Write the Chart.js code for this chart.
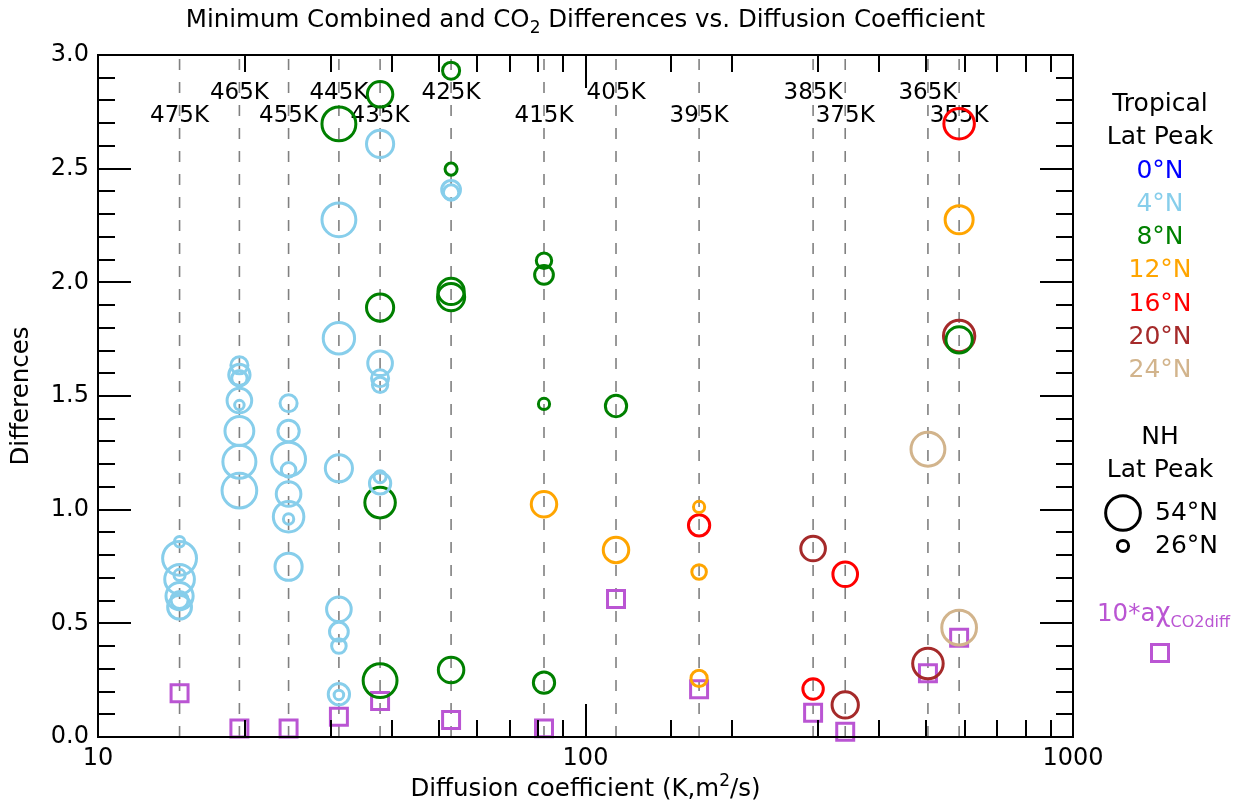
<!DOCTYPE html>
<html>
<head>
<meta charset="utf-8">
<script src="https://cdn.jsdelivr.net/npm/chart.js@4.4.0/dist/chart.umd.min.js"></script>
<style>
  html, body { margin: 0; padding: 0; background: #ffffff; }
  #wrap { width: 1233px; height: 803px; }
</style>
</head>
<body>
<div id="wrap"><canvas id="chart" width="1233" height="803"></canvas></div>
<script>
// Potential-temperature levels and their diffusion coefficients (K m^2/s)
const levelLabels = ['475K', '465K', '455K', '445K', '435K', '425K', '415K', '405K', '395K', '385K', '375K', '365K', '355K'];
const levelDiffusion = [14.7, 19.5, 24.6, 31.2, 37.9, 53.0, 82.2, 115.5, 171.0, 293, 341, 504, 584];

// Tropical latitude peak 4°N
const trop4Levels = [
  '475K', '475K', '475K', '475K', '475K', '475K', '475K',
  '465K', '465K', '465K', '465K', '465K', '465K', '465K', '465K',
  '455K', '455K', '455K', '455K', '455K', '455K', '455K', '455K',
  '445K', '445K', '445K', '445K', '445K', '445K', '445K', '445K',
  '435K', '435K', '435K', '435K', '435K', '435K',
  '425K', '425K'
];
const trop4Diff = [
  0.859, 0.786, 0.694, 0.713, 0.620, 0.603, 0.571,
  1.635, 1.593, 1.578, 1.480, 1.460, 1.346, 1.211, 1.084,
  1.468, 1.346, 1.222, 1.175, 1.069, 0.969, 0.959, 0.749,
  2.275, 1.754, 1.182, 0.562, 0.463, 0.400, 0.188, 0.185,
  2.609, 1.644, 1.578, 1.549, 1.145, 1.116,
  2.407, 2.395
];
const trop4NH = [
  25, 53, 48, 26, 45, 33, 41,
  33, 38, 31, 42, 24, 47, 52, 54,
  33, 38, 53, 30, 42, 49, 25, 45,
  53, 50, 45, 42, 35, 30, 38, 24,
  45, 42, 33, 31, 27, 38,
  35, 31
];

// Tropical latitude peak 8°N
const trop8Levels = ['445K', '435K', '435K', '435K', '435K', '425K', '425K', '425K', '425K', '425K', '415K', '415K', '415K', '415K', '405K', '355K'];
const trop8Diff = [2.697, 2.827, 1.889, 1.031, 0.248, 2.931, 2.498, 1.960, 1.935, 0.295, 2.095, 2.033, 1.465, 0.239, 1.456, 1.747];
const trop8NH = [53, 43, 45, 49, 53, 33, 27, 44, 45, 43, 31, 35, 26, 38, 38, 44];

// Tropical latitude peak 12°N
const trop12Levels = ['415K', '405K', '395K', '395K', '395K', '355K'];
const trop12Diff = [1.024, 0.823, 1.012, 0.726, 0.258, 2.275];
const trop12NH = [43, 43, 26, 30, 32, 46];

// Tropical latitude peak 16°N
const trop16Levels = ['395K', '385K', '375K', '355K'];
const trop16Diff = [0.931, 0.211, 0.716, 2.698];
const trop16NH = [38, 37, 42, 49];

// Tropical latitude peak 20°N
const trop20Levels = ['385K', '375K', '365K', '355K'];
const trop20Diff = [0.829, 0.141, 0.323, 1.764];
const trop20NH = [42, 44, 49, 50];

// Tropical latitude peak 24°N
const trop24Levels = ['365K', '355K'];
const trop24Diff = [1.266, 0.481];
const trop24NH = [53, 54];

// 10 * a·chi_CO2diff, one value per level
const co2Diff = [0.192, 0.037, 0.037, 0.089, 0.158, 0.075, 0.038, 0.607, 0.210, 0.107, 0.023, 0.280, 0.437];

// Axis tick labels and legend entries
const yTicksMajor = ['0.0', '0.5', '1.0', '1.5', '2.0', '2.5', '3.0'];
const tropLegend = ['0°N', '4°N', '8°N', '12°N', '16°N', '20°N', '24°N'];
const tropColors = ['#0000ff', '#87ceeb', '#008000', '#ffa500', '#ff0000', '#a52a2a', '#d2b48c'];
const nhLegend = [54, 26];

const FONT = '"DejaVu Sans", "Liberation Sans", sans-serif';

// circle radius from NH latitude peak
function nhRadius(lat) {
  return 5.6 + (lat - 26) * 0.42;
}

function buildPoints(levels, diffs, nh) {
  return levels.map((lv, i) => ({
    x: levelDiffusion[levelLabels.indexOf(lv)],
    y: diffs[i],
    nh: nh[i]
  }));
}

function circleSet(label, color, levels, diffs, nh) {
  return {
    label: label,
    data: buildPoints(levels, diffs, nh),
    pointStyle: 'circle',
    backgroundColor: 'rgba(0,0,0,0)',
    borderColor: color,
    pointBorderWidth: 3,
    pointRadius: (c) => c.raw ? nhRadius(c.raw.nh) : 5,
    pointHoverRadius: (c) => c.raw ? nhRadius(c.raw.nh) : 5,
    clip: false
  };
}

const datasets = [
  circleSet('4°N', tropColors[1], trop4Levels, trop4Diff, trop4NH),
  circleSet('8°N', tropColors[2], trop8Levels, trop8Diff, trop8NH),
  circleSet('12°N', tropColors[3], trop12Levels, trop12Diff, trop12NH),
  circleSet('16°N', tropColors[4], trop16Levels, trop16Diff, trop16NH),
  circleSet('20°N', tropColors[5], trop20Levels, trop20Diff, trop20NH),
  circleSet('24°N', tropColors[6], trop24Levels, trop24Diff, trop24NH),
  {
    label: 'CO2 diff',
    data: co2Diff.map((v, i) => ({ x: levelDiffusion[i], y: v })),
    pointStyle: 'rect',
    backgroundColor: 'rgba(0,0,0,0)',
    borderColor: '#ba55d3',
    pointBorderWidth: 3,
    pointRadius: 12,
    pointHoverRadius: 12,
    clip: false
  }
];

function isDecade(v) {
  const l = Math.log10(v);
  return Math.abs(l - Math.round(l)) < 1e-9;
}

// text with a raised or lowered small part: parts = [[text, size, dy], ...]
function drawRich(ctx, parts, cx, cy, align) {
  const widths = parts.map(p => { ctx.font = p[1] + 'px ' + FONT; return ctx.measureText(p[0]).width; });
  const total = widths.reduce((a, b) => a + b, 0);
  let x = align === 'left' ? cx : cx - total / 2;
  ctx.textAlign = 'left';
  ctx.textBaseline = 'alphabetic';
  parts.forEach((p, i) => {
    ctx.font = p[1] + 'px ' + FONT;
    ctx.fillText(p[0], x, cy + p[2]);
    x += widths[i];
  });
}

const decorPlugin = {
  id: 'decor',
  beforeDatasetsDraw(chart) {
    const { ctx, chartArea: a, scales: { x } } = chart;
    ctx.save();
    // dashed level lines
    ctx.strokeStyle = '#808080';
    ctx.lineWidth = 1.6;
    ctx.setLineDash([11, 12]);
    levelDiffusion.forEach(d => {
      const px = x.getPixelForValue(d);
      ctx.beginPath();
      ctx.moveTo(px, a.top + 4);
      ctx.lineTo(px, a.bottom);
      ctx.stroke();
    });
    ctx.setLineDash([]);
    // level names, staggered in two rows
    ctx.font = '23px ' + FONT;
    ctx.fillStyle = '#000';
    ctx.textAlign = 'center';
    ctx.textBaseline = 'middle';
    levelLabels.forEach((t, i) => {
      const px = x.getPixelForValue(levelDiffusion[i]);
      const py = i % 2 ? a.top + 38 : a.top + 61;
      ctx.fillText(t, px, py);
    });
    ctx.restore();
  },
  afterDraw(chart) {
    const { ctx, chartArea: a, scales: { x, y } } = chart;
    ctx.save();
    ctx.strokeStyle = '#000';
    ctx.lineWidth = 2;
    // frame
    ctx.strokeRect(a.left, a.top, a.right - a.left, a.bottom - a.top);
    // inward ticks on all four sides
    ctx.beginPath();
    x.ticks.forEach(t => {
      const px = Math.round(x.getPixelForValue(t.value));
      const len = isDecade(t.value) ? 33 : 17;
      ctx.moveTo(px, a.bottom); ctx.lineTo(px, a.bottom - len);
      ctx.moveTo(px, a.top); ctx.lineTo(px, a.top + len);
    });
    for (let k = 0; k <= 30; k++) {
      const py = Math.round(y.getPixelForValue(k / 10));
      const len = k % 5 === 0 ? 33 : 17;
      ctx.moveTo(a.left, py); ctx.lineTo(a.left + len, py);
      ctx.moveTo(a.right, py); ctx.lineTo(a.right - len, py);
    }
    ctx.stroke();

    // chart title
    ctx.fillStyle = '#000';
    const cx = (a.left + a.right) / 2;
    drawRich(ctx, [['Minimum Combined and CO', 24.5, 0], ['2', 17, 6], [' Differences vs. Diffusion Coefficient', 24.5, 0]], cx, 27, 'center');
    // x axis title
    drawRich(ctx, [['Diffusion coefficient (K,m', 24.5, 0], ['2', 17, -10], ['/s)', 24.5, 0]], cx, 796, 'center');
    // y axis title
    ctx.save();
    ctx.translate(22, (a.top + a.bottom) / 2);
    ctx.rotate(-Math.PI / 2);
    ctx.font = '24.5px ' + FONT;
    ctx.textAlign = 'center';
    ctx.textBaseline = 'middle';
    ctx.fillText('Differences', 0, 0);
    ctx.restore();

    // legend: tropical latitude peak colours
    const lx = 1160;
    ctx.font = '25px ' + FONT;
    ctx.textAlign = 'center';
    ctx.textBaseline = 'middle';
    ctx.fillStyle = '#000';
    ctx.fillText('Tropical', lx, 104);
    ctx.fillText('Lat Peak', lx, 137);
    tropLegend.forEach((t, i) => {
      ctx.fillStyle = tropColors[i];
      ctx.fillText(t, lx, 171 + i * 33.3);
    });
    // legend: NH latitude peak sizes
    ctx.fillStyle = '#000';
    ctx.fillText('NH', lx, 437);
    ctx.fillText('Lat Peak', lx, 470);
    nhLegend.forEach((lat, i) => {
      const cy = 513 + i * 33;
      ctx.beginPath();
      ctx.lineWidth = 3;
      ctx.strokeStyle = '#000';
      ctx.arc(1123, cy, nhRadius(lat), 0, Math.PI * 2);
      ctx.stroke();
      ctx.textAlign = 'left';
      ctx.fillText(lat + '°N', 1155, cy);
      ctx.textAlign = 'center';
    });
    // legend: CO2 difference marker
    ctx.fillStyle = '#ba55d3';
    drawRich(ctx, [['10*a', 24.5, 0], ['χ', 26, 0], ['CO2diff', 16, 6]], 1097, 621, 'left');
    ctx.strokeStyle = '#ba55d3';
    ctx.lineWidth = 3;
    ctx.strokeRect(1160 - 8.5, 653 - 8.5, 17, 17);
    ctx.restore();
  }
};

new Chart(document.getElementById('chart'), {
  type: 'scatter',
  data: { datasets: datasets },
  options: {
    responsive: false,
    animation: false,
    devicePixelRatio: 1,
    layout: { padding: { left: 0, right: 160, top: 55, bottom: 0 } },
    plugins: {
      legend: { display: false },
      title: { display: false },
      tooltip: { enabled: false }
    },
    scales: {
      x: {
        type: 'logarithmic',
        min: 10,
        max: 1000,
        grid: { display: false, drawTicks: false },
        border: { display: false },
        ticks: {
          autoSkip: false,
          maxRotation: 0,
          padding: 7,
          color: '#000',
          font: { family: FONT, size: 24 },
          callback: (v) => isDecade(v) ? String(Math.round(v)) : ''
        },
        afterFit: (s) => { s.height = 66; }
      },
      y: {
        min: 0,
        max: 3,
        grid: { display: false, drawTicks: false },
        border: { display: false },
        ticks: {
          stepSize: 0.5,
          padding: 9,
          color: '#000',
          font: { family: FONT, size: 24 },
          callback: (v) => yTicksMajor[Math.round(v * 2)] ?? ''
        },
        afterFit: (s) => { s.width = 98; }
      }
    }
  },
  plugins: [decorPlugin]
});
</script>
</body>
</html>
